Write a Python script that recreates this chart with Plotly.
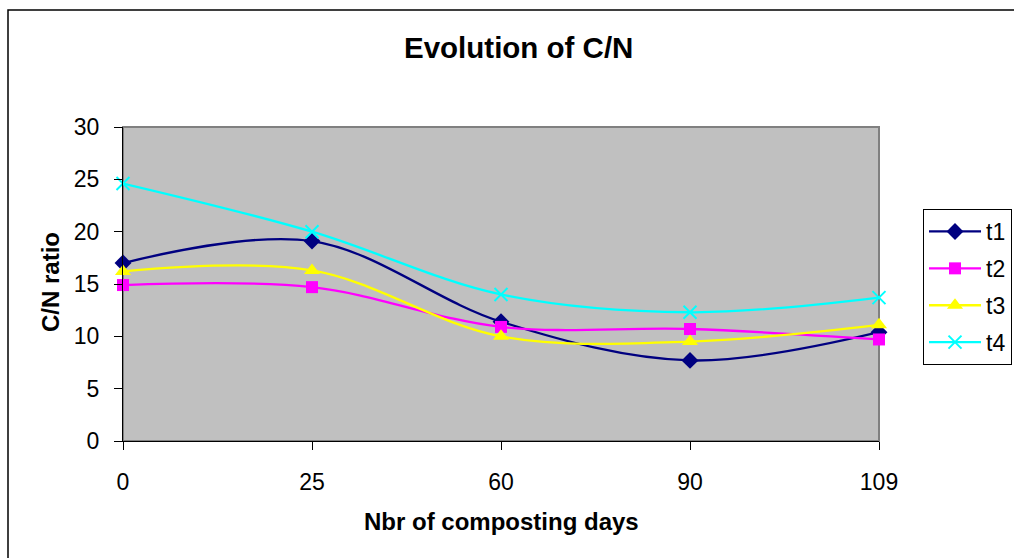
import plotly.graph_objects as go

days = ["0", "25", "60", "90", "109"]
t1 = [17.0, 19.1, 11.4, 7.7, 10.4]
t2 = [14.9, 14.7, 10.9, 10.7, 9.7]
t3 = [16.2, 16.3, 10.0, 9.5, 11.1]
t4 = [24.6, 20.0, 14.0, 12.3, 13.7]
series_names = ["t1", "t2", "t3", "t4"]
y_ticks = [0, 5, 10, 15, 20, 25, 30]

W, H = 1014, 558
L, R, T, B = 123, 879, 127, 441
pw, ph = R - L, B - T

def px(x):
    return (x - L) / pw

def py(y):
    return (B - y) / ph

FONT = "Liberation Sans, Arial, sans-serif"
xs = list(range(len(days)))

styles = [
    dict(color="#000080", symbol="diamond", size=13, mline=0),
    dict(color="#FF00FF", symbol="square", size=12, mline=0),
    dict(color="#FFFF00", symbol="triangle-up", size=14, mline=0),
    dict(color="#00FFFF", symbol="x-thin", size=13, mline=2),
]

fig = go.Figure()
for name, vals, st in zip(series_names, [t1, t2, t3, t4], styles):
    fig.add_trace(go.Scatter(
        x=xs, y=vals, name=name, mode="lines+markers",
        line=dict(color=st["color"], width=2.3, shape="spline", smoothing=1.0),
        marker=dict(symbol=st["symbol"], size=st["size"], color=st["color"],
                    line=dict(color=st["color"], width=st["mline"])),
        cliponaxis=False, legendgroup=name,
    ))

fig.update_layout(
    width=W, height=H,
    margin=dict(l=L, r=W - R, t=T, b=H - B, pad=0, autoexpand=False),
    paper_bgcolor="white", plot_bgcolor="#C0C0C0",
    font=dict(family=FONT, size=23, color="black"),
    showlegend=True,
    legend=dict(
        x=px(923), y=py(209), xanchor="left", yanchor="top",
        bordercolor="black", borderwidth=1, bgcolor="white",
        font=dict(size=23, family=FONT), itemwidth=52,
        tracegroupgap=4, traceorder="grouped",
    ),
    xaxis=dict(
        range=[0, len(days) - 1], tickvals=xs, ticktext=days,
        showgrid=False, zeroline=False, showline=True, linecolor="black", linewidth=1,
        ticks="outside", ticklen=8, tickcolor="black", tickwidth=1,
        tickfont=dict(size=23), ticklabelstandoff=12,
    ),
    yaxis=dict(
        range=[0, 30], tickvals=y_ticks,
        showgrid=False, zeroline=False, showline=True, linecolor="black", linewidth=1,
        ticks="outside", ticklen=8, tickcolor="black", tickwidth=1,
        tickfont=dict(size=23), ticklabelstandoff=10,
    ),
    shapes=[
        dict(type="rect", xref="paper", yref="paper", x0=0, x1=1, y0=0, y1=1,
             line=dict(color="#808080", width=2), layer="below"),
        dict(type="rect", xref="paper", yref="paper",
             x0=px(8), x1=px(1030), y0=py(575), y1=py(10),
             line=dict(color="black", width=1.5), layer="below"),
    ],
    annotations=[
        dict(text="<b>Evolution of C/N</b>", xref="paper", yref="paper",
             x=px(518), y=py(47), showarrow=False, xanchor="center", yanchor="middle",
             font=dict(size=29.5, family=FONT)),
        dict(text="<b>Nbr of composting days</b>", xref="paper", yref="paper",
             x=px(501), y=py(521), showarrow=False, xanchor="center", yanchor="middle",
             font=dict(size=24, family=FONT)),
        dict(text="<b>C/N ratio</b>", xref="paper", yref="paper",
             x=px(50), y=py(282), showarrow=False, xanchor="center", yanchor="middle",
             textangle=-90, font=dict(size=24, family=FONT)),
    ],
)

fig.write_html("out.html")
